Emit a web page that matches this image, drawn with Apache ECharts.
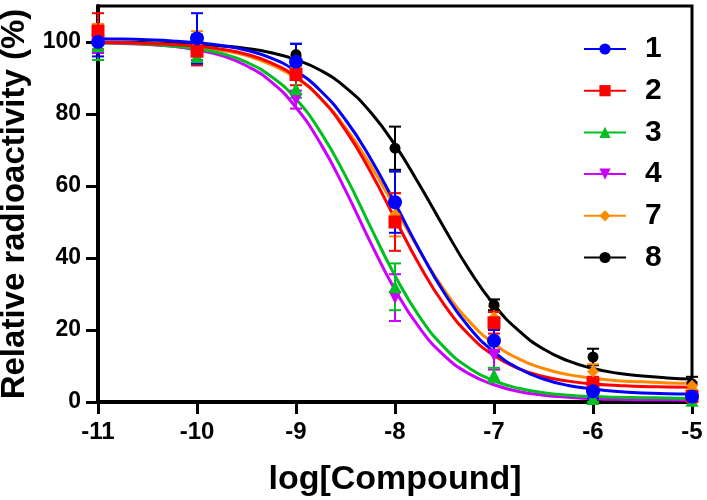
<!DOCTYPE html>
<html>
<head>
<meta charset="utf-8">
<script src="https://cdn.jsdelivr.net/npm/echarts@6/dist/echarts.min.js"></script>
<style>html,body{margin:0;padding:0;background:#fff;}#c{width:707px;height:500px;}</style>
</head>
<body>
<div id="c"></div>
<script>
// Measured concentrations (log M)
const doseX = [-11, -10, -9, -8, -7, -6, -5];
// Fitted-curve sample positions (log M)
const curveX = [-11, -10.75, -10.5, -10.25, -10, -9.75, -9.5, -9.25, -9, -8.75, -8.5, -8.25, -8,
                -7.75, -7.5, -7.25, -7, -6.75, -6.5, -6.25, -6, -5.75, -5.5, -5.25, -5];

const names = ['1', '2', '3', '4', '7', '8'];
const colors = ['#0000ff', '#ff0000', '#00bf20', '#cc00ff', '#ff8a00', '#000000'];

// Mean relative radioactivity (%)
const mean1 = [100, 101, 94.5, 55.5, 17, 3, 1.5];
const mean2 = [103, 97.5, 91, 50, 22, 5, 1.5];
const mean3 = [99, 96, 87, 32, 7.5, 1, 0.5];
const mean4 = [100, 97, 84, 29, 13, 1, 0.5];
const mean7 = [100, 99, 93, 52, 23.5, 8.5, 4.5];
const mean8 = [100, 99, 96.5, 70.5, 27, 12.5, 5];
// Error (±)
const err1 = [4, 7, 5, 8.5, 3, 2, 1];
const err2 = [5, 4, 3, 8, 3, 2, 1];
const err3 = [4, 2, 2.5, 6.5, 2, 1, 0.5];
const err4 = [3, 2, 2.5, 6.5, 4, 1, 0.5];
const err7 = [5, 4, 3, 6, 3, 2, 1];
const err8 = [3, 3, 3, 6, 1.5, 2.3, 2];
// Fitted curves
const curve1 = [100.9, 100.8, 100.6, 100.3, 99.8, 99.0, 97.7, 95.5, 91.9, 86.4, 78.4, 67.8, 55.2, 42.1, 30.2, 20.7, 13.9, 9.3, 6.4, 4.6, 3.6, 2.9, 2.5, 2.3, 2.2];
const curve2 = [99.9, 99.8, 99.6, 99.3, 98.9, 98.0, 96.6, 94.2, 90.3, 84.3, 75.5, 64.1, 50.9, 37.9, 26.9, 18.6, 12.9, 9.3, 7.1, 5.8, 5.0, 4.6, 4.3, 4.2, 4.1];
const curve3 = [99.8, 99.7, 99.4, 98.9, 98.1, 96.8, 94.4, 90.4, 84.2, 74.9, 62.8, 48.8, 35.1, 23.6, 15.1, 9.4, 5.9, 3.8, 2.6, 1.9, 1.5, 1.3, 1.2, 1.1, 1.0];
const curve4 = [99.8, 99.6, 99.3, 98.8, 97.8, 96.2, 93.4, 88.9, 81.8, 71.7, 58.8, 44.5, 31.2, 20.5, 12.8, 7.8, 4.8, 2.9, 1.9, 1.3, 0.9, 0.75, 0.6, 0.6, 0.5];
const curve7 = [99.8, 99.7, 99.5, 99.2, 98.6, 97.7, 96.2, 93.7, 90.0, 84.3, 76.2, 65.9, 54.0, 41.9, 31.0, 22.4, 16.2, 12.0, 9.3, 7.6, 6.6, 5.9, 5.6, 5.3, 5.2];
const curve8 = [99.9, 99.9, 99.8, 99.6, 99.4, 98.9, 98.2, 97.0, 95.1, 92.1, 87.4, 80.6, 71.4, 60.2, 48.2, 36.7, 27.0, 19.8, 14.7, 11.4, 9.3, 8.0, 7.2, 6.7, 6.4];

const yTicks = [0, 20, 40, 60, 80, 100];

const means = [mean1, mean2, mean3, mean4, mean7, mean8];
const errs = [err1, err2, err3, err4, err7, err8];
const curves = [curve1, curve2, curve3, curve4, curve7, curve8];
const symbols = ['circle', 'rect', 'triangle', 'triangle', 'diamond', 'circle'];
const rotates = [0, 0, 0, 180, 0, 0];
const sizes = [14, 13, 13, 13, 12, 11];

const FONT = "'Liberation Sans', Arial, sans-serif";
const drawOrder = [5, 4, 3, 2, 1, 0];
const series = [];

// curves (with legend icon)
drawOrder.forEach(i => {
  series.push({
    name: names[i], type: 'line', smooth: 0.5,
    showSymbol: false, symbol: symbols[i], symbolRotate: rotates[i], symbolSize: 10,
    data: curveX.map((x, k) => [x, curves[i][k]]),
    lineStyle: { color: colors[i], width: 3 }, itemStyle: { color: colors[i] },
    z: 2, silent: true
  });
});
// error bars
drawOrder.forEach(i => {
  series.push({
    type: 'custom', z: 3, silent: true,
    data: doseX.map((x, k) => [x, means[i][k] - errs[i][k], means[i][k] + errs[i][k]]),
    renderItem: function (params, api) {
      const lo = api.coord([api.value(0), api.value(1)]);
      const hi = api.coord([api.value(0), api.value(2)]);
      const w = 6;
      const st = { stroke: colors[i], lineWidth: 2 };
      return { type: 'group', children: [
        { type: 'line', shape: { x1: lo[0], y1: lo[1], x2: hi[0], y2: hi[1] }, style: st },
        { type: 'line', shape: { x1: lo[0] - w, y1: lo[1], x2: lo[0] + w, y2: lo[1] }, style: st },
        { type: 'line', shape: { x1: hi[0] - w, y1: hi[1], x2: hi[0] + w, y2: hi[1] }, style: st }
      ]};
    }
  });
});
// markers
drawOrder.forEach(i => {
  series.push({
    type: 'scatter', z: 4, symbol: symbols[i], symbolRotate: rotates[i], symbolSize: sizes[i],
    data: doseX.map((x, k) => [x, means[i][k]]),
    itemStyle: { color: colors[i], opacity: 1 }, silent: true
  });
});

const chart = echarts.init(document.getElementById('c'), null, { renderer: 'canvas' });
chart.setOption({
  animation: false,
  backgroundColor: '#fff',
  grid: { left: 98, right: 15, top: 6, bottom: 98, show: true, borderColor: '#000', borderWidth: 3,
          containLabel: false, outerBoundsMode: 'none' },
  legend: {
    data: names, left: 578, top: 29, orient: 'vertical', itemWidth: 42, itemHeight: 14, itemGap: 11.7,
    textStyle: { fontFamily: FONT, fontWeight: 'bold', fontSize: 30, color: '#000', lineHeight: 30, padding: [0, 0, 0, 14] },
    selectedMode: false
  },
  xAxis: {
    type: 'value', min: -11, max: -5, interval: 1,
    name: 'log[Compound]', nameLocation: 'middle', nameGap: 61,
    nameTextStyle: { fontFamily: FONT, fontWeight: 'bold', fontSize: 34, color: '#000' },
    axisLine: { lineStyle: { color: '#000', width: 4 } },
    axisTick: { length: 12, lineStyle: { color: '#000', width: 3 } },
    axisLabel: { fontFamily: FONT, fontWeight: 'bold', fontSize: 24, color: '#000', margin: 18 },
    splitLine: { show: false }
  },
  yAxis: {
    type: 'value', min: 0, max: 110, interval: 20,
    name: 'Relative radioactivity (%)', nameLocation: 'middle', nameGap: 65,
    nameTextStyle: { fontFamily: FONT, fontWeight: 'bold', fontSize: 33, color: '#000' },
    axisLine: { lineStyle: { color: '#000', width: 4 } },
    axisTick: { length: 12, customValues: yTicks, lineStyle: { color: '#000', width: 3 } },
    axisLabel: { fontFamily: FONT, fontWeight: 'bold', fontSize: 23, color: '#000', margin: 17, customValues: yTicks },
    splitLine: { show: false }
  },
  series: series
});
</script>
</body>
</html>
